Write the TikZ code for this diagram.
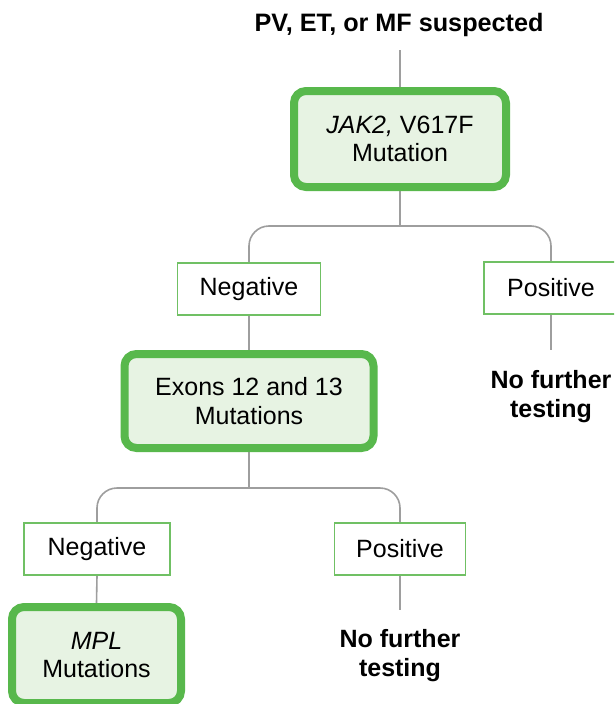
\documentclass[tikz,border=0pt]{standalone}
\usepackage{fontspec}
\setmainfont{Liberation Sans}
\usetikzlibrary{backgrounds}
\definecolor{mygreen}{RGB}{88,184,76}
\definecolor{myfill}{RGB}{231,243,227}
\definecolor{mythin}{RGB}{112,192,100}
\definecolor{mygray}{RGB}{158,158,158}
\begin{document}
\begin{tikzpicture}[x=1pt,y=-1pt,
  every node/.style={font=\fontsize{25}{28.5}\selectfont, inner sep=0pt, align=center},
  bigbox/.style={draw=mygreen, line width=8pt, fill=myfill, rounded corners=12pt},
  smallbox/.style={draw=mythin, line width=1.5pt, fill=white, minimum height=52pt},
  conn/.style={draw=mygray, line width=1.6pt},
  result/.style={font=\fontsize{25}{29}\selectfont\bfseries}]
\useasboundingbox (0,0) rectangle (614,704);
\clip (0,0) rectangle (614,704);
% nodes
\node[anchor=base, font=\fontsize{25.2}{28.5}\selectfont\bfseries] (title) at (399,31) {PV, ET, or MF suspected};
\node[bigbox, minimum width=212pt, minimum height=96pt] (jak) at (400,139) {\textit{JAK2,} V617F\\Mutation};
\node[smallbox, minimum width=143pt] (neg1) at (249,289) {Negative};
\node[smallbox, minimum width=134pt] (pos1) at (551,288) {Positive};
\node[result] (nf1) at (551,397) {No further\\testing};
\node[bigbox, minimum width=249pt, minimum height=94pt] (exon) at (249,401) {Exons 12 and 13\\Mutations};
\node[smallbox, minimum width=146pt] (neg2) at (97,549) {Negative};
\node[smallbox, minimum width=131pt] (pos2) at (400,549) {Positive};
\node[result] (nf2) at (400,656) {No further\\testing};
\node[bigbox, minimum width=169pt, minimum height=96pt] (mpl) at (96.5,655) {\textit{MPL}\\Mutations};
% connectors
\coordinate (t0) at (400,50);
\coordinate (j1) at (400,226);
\coordinate (j2) at (249,488);
\coordinate (e1) at (551,350);
\coordinate (e2) at (400,610);
\begin{scope}[on background layer]
\fill[white] (0,0) rectangle (614,704);
\draw[conn] (t0) -- (jak.north);
\draw[conn] (jak.south) -- (j1);
\draw[conn, rounded corners=20pt] (neg1.north) -- (neg1.north |- j1) -- (pos1.north |- j1) -- (pos1.north);
\draw[conn] (neg1.south) -- (exon.north);
\draw[conn] (pos1.south) -- (e1);
\draw[conn] (exon.south) -- (j2);
\draw[conn, rounded corners=20pt] (neg2.north) -- (neg2.north |- j2) -- (pos2.north |- j2) -- (pos2.north);
\draw[conn] (neg2.south) -- (mpl.north);
\draw[conn] (pos2.south) -- (e2);
\end{scope}
\end{tikzpicture}
\end{document}
